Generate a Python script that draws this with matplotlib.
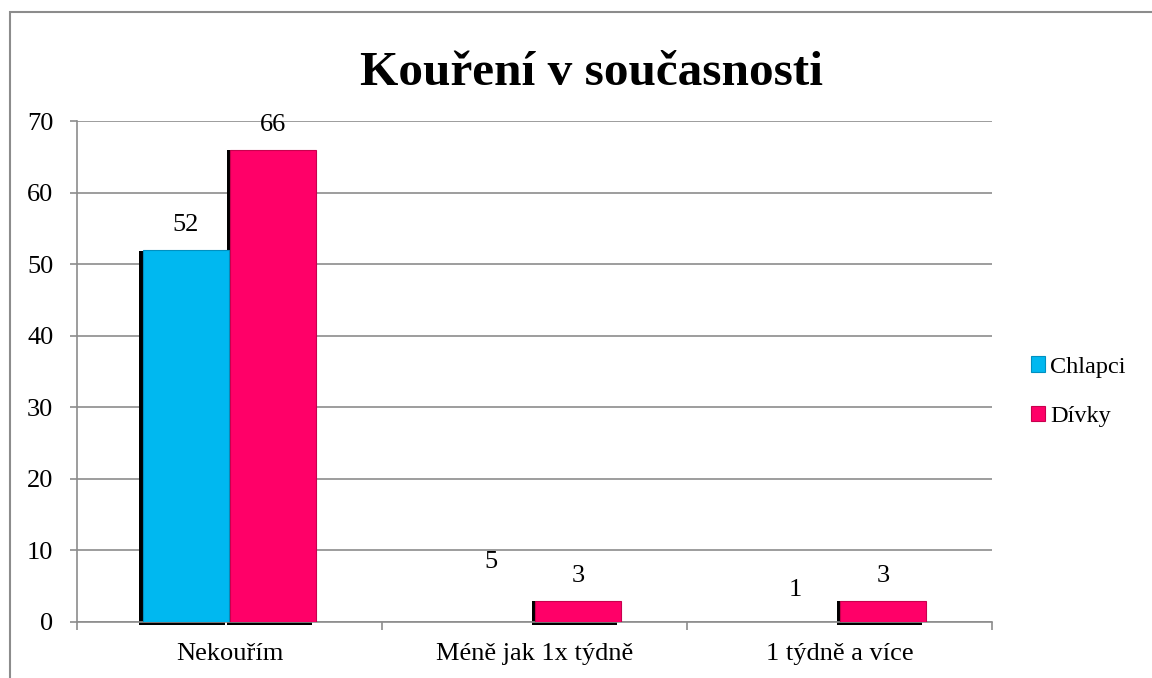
import numpy as np
import matplotlib.pyplot as plt
from matplotlib.patches import Rectangle

plt.rcParams['font.family'] = ['Liberation Serif', 'DejaVu Serif']

categories = ['Nekouřím', 'Méně jak 1x týdně', '1 týdně a více']
chlapci = [52, 5, 1]
divky = [66, 3, 3]
# in the source image only some of the bars are actually rendered
chlapci_shown = [True, False, False]
divky_shown = [True, True, True]

c_cyan = '#00b8f0'
c_pink = '#ff0068'
grey = '#8c8c8c'
fs = 19

fig = plt.figure(figsize=(11.52, 6.78), dpi=100)
ax = fig.add_axes([0.0668, 0.0826, 0.7942, 0.7389])

# outer chart border
fig.patches.append(Rectangle((10 / 1152, -0.2), 1.2, 1.2 - 12 / 678,
                             transform=fig.transFigure, fill=False,
                             edgecolor=grey, linewidth=1.5))

x = np.arange(len(categories))
w = 0.28
off = 0.143

for i in range(len(categories)):
    if chlapci_shown[i]:
        ax.bar(x[i] - off - 0.012, chlapci[i] + 0.3, w, bottom=-0.4, color='black',
               zorder=2, clip_on=False)
        ax.bar(x[i] - off, chlapci[i], w, color=c_cyan, edgecolor='#0090c0',
               linewidth=0.8, zorder=3, label='Chlapci' if i == 0 else None)
    if divky_shown[i]:
        ax.bar(x[i] + off - 0.012, divky[i] + 0.3, w, bottom=-0.4, color='black',
               zorder=2, clip_on=False)
        ax.bar(x[i] + off, divky[i], w, color=c_pink, edgecolor='#c8004e',
               linewidth=0.8, zorder=3, label='Dívky' if i == 0 else None)
    ax.text(x[i] - off, chlapci[i] + 1.9, str(chlapci[i]), ha='center', va='bottom', fontsize=fs)
    ax.text(x[i] + off, divky[i] + 1.9, str(divky[i]), ha='center', va='bottom', fontsize=fs)

ax.set_xlim(-0.5, 2.5)
ax.set_ylim(0, 70)
ax.set_yticks(range(0, 71, 10))
ax.set_xticks(x)
ax.set_xticklabels(categories, fontsize=fs)
ax.set_xticks([-0.5, 0.5, 1.5, 2.5], minor=True)
ax.tick_params(axis='x', which='major', length=0, pad=15)
ax.tick_params(axis='x', which='minor', length=6, color=grey, width=1.2)
ax.tick_params(axis='y', length=5, color=grey, width=1.2, pad=12, labelsize=fs)

ax.yaxis.grid(True, color=grey, linewidth=1.2, zorder=0)
ax.set_axisbelow(True)
for s in ['top', 'right']:
    ax.spines[s].set_visible(False)
for s in ['left', 'bottom']:
    ax.spines[s].set_color(grey)
    ax.spines[s].set_linewidth(1.2)

fig.text(0.5135, 0.893, 'Kouření v současnosti', ha='center', va='center',
         fontsize=35.5, fontweight='bold')

leg = ax.legend(loc='center left', bbox_to_anchor=(1.032, 0.46), frameon=False,
                fontsize=17.5, handlelength=0.6, handleheight=0.6, handletextpad=0.2,
                labelspacing=1.15, borderaxespad=0)

fig.savefig('out.png', dpi=100)
